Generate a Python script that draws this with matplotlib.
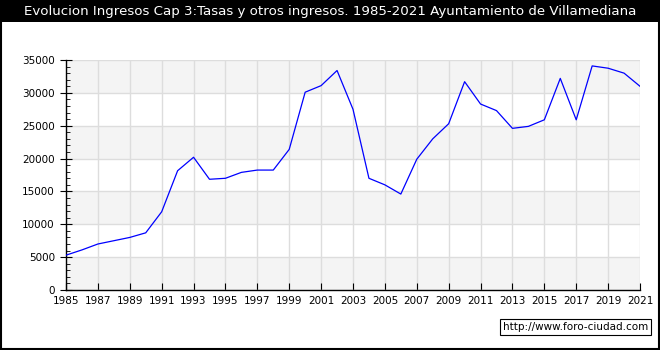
#!/usr/bin/env python3

import matplotlib

matplotlib.use('Agg')
import matplotlib.pyplot as plt
from matplotlib.patches import Rectangle
from matplotlib.ticker import MultipleLocator


TITLE = 'Evolucion Ingresos Cap 3:Tasas y otros ingresos. 1985-2021 Ayuntamiento de Villamediana'
WATERMARK = 'http://www.foro-ciudad.com'

years = list(range(1985, 2022))
ingresos = [
    5300, 6100, 7000, 7500, 8000, 8700, 11900, 18150, 20200, 16850,
    17000, 17900, 18250, 18250, 21400, 30100, 31100, 33400, 27500, 17000,
    16000, 14600, 19900, 23000, 25300, 31700, 28300, 27300, 24600, 24900,
    25900, 32200, 25900, 34100, 33750, 33000, 31000,
]
x_ticks = list(range(1985, 2022, 2))


def main():
    fig = plt.figure(figsize=(6.6, 3.5), dpi=100)
    fig.patch.set_facecolor('white')

    # black title bar and frame
    fig.patches.append(Rectangle((0, 1 - 22 / 350), 1, 22 / 350, transform=fig.transFigure,
                                 facecolor='black', edgecolor='none', zorder=0))
    fig.patches.append(Rectangle((0.0015, 0.003), 0.997, 0.994, transform=fig.transFigure,
                                 facecolor='none', edgecolor='black', linewidth=1.5, zorder=1))
    fig.text(0.5, 1 - 11 / 350, TITLE, color='white', ha='center', va='center', fontsize=9.6)

    ax = fig.add_axes([66 / 660, 60 / 350, 574 / 660, 230 / 350])
    ax.set_xlim(1985, 2021)
    ax.set_ylim(0, 35000)

    for low in range(0, 35000, 10000):
        ax.axhspan(low, low + 5000, color='#f4f4f4', zorder=0, linewidth=0)

    ax.plot(years, ingresos, color='blue', linewidth=0.9, zorder=3)

    ax.set_xticks(x_ticks)
    ax.set_xticklabels([str(y) for y in x_ticks])
    ax.yaxis.set_major_locator(MultipleLocator(5000))
    ax.yaxis.set_minor_locator(MultipleLocator(1000))
    ax.grid(True, color='#dddddd', linewidth=1.0, zorder=1)
    ax.set_axisbelow(True)

    for side in ('top', 'right'):
        ax.spines[side].set_visible(False)
    ax.spines['left'].set_linewidth(1.0)
    ax.spines['bottom'].set_linewidth(1.0)

    ax.tick_params(axis='x', direction='in', length=5, labelsize=7.5, pad=4)
    ax.tick_params(axis='y', which='major', direction='inout', length=8, labelsize=7.5, pad=4)
    ax.tick_params(axis='y', which='minor', direction='in', length=3)

    fig.text(648 / 660, 1 - 327 / 350, WATERMARK, ha='right', va='center', fontsize=7.5,
             bbox=dict(boxstyle='square,pad=0.25', facecolor='white', edgecolor='black', linewidth=0.8))

    fig.savefig('out.png', dpi=100)
    plt.close(fig)


if __name__ == '__main__':
    main()
